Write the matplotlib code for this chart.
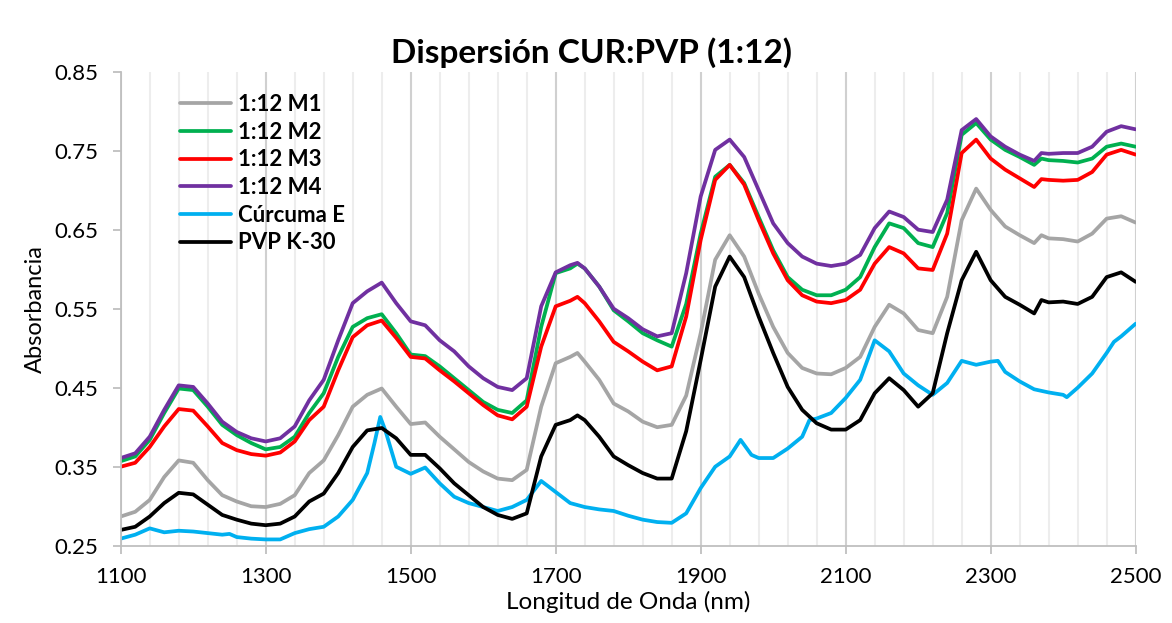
import numpy as np
import matplotlib
matplotlib.use("Agg")
import matplotlib.pyplot as plt

plt.rcParams['font.family'] = ['Lato', 'DejaVu Sans']

# wavelengths (nm) shared by the sample / PVP spectra
wl = [1100, 1120, 1140, 1160, 1180, 1200, 1220, 1240, 1260, 1280,
      1300, 1320, 1340, 1360, 1380, 1400, 1420, 1440, 1460, 1480,
      1500, 1520, 1540, 1560, 1580, 1600, 1620, 1640, 1660, 1680,
      1700, 1720, 1730, 1740, 1760, 1780, 1800, 1820, 1840, 1860,
      1880, 1900, 1920, 1940, 1960, 1980, 2000, 2020, 2040, 2060,
      2080, 2100, 2120, 2140, 2160, 2180, 2200, 2220, 2240, 2260,
      2280, 2300, 2320, 2340, 2360, 2370, 2380, 2400, 2420, 2440,
      2460, 2480, 2500]

m1 = [.287, .293, .308, .337, .358, .355, .333, .314, .306, .300,
      .299, .303, .314, .342, .358, .390, .426, .441, .449, .426,
      .404, .406, .388, .372, .356, .344, .335, .333, .346, .426,
      .481, .489, .494, .483, .460, .430, .420, .407, .400, .403,
      .440, .519, .612, .643, .616, .569, .527, .494, .475, .468,
      .467, .475, .489, .527, .555, .544, .523, .519, .565, .662,
      .702, .675, .654, .643, .633, .643, .639, .638, .635, .645,
      .664, .667, .659]

m2 = [.357, .363, .384, .418, .449, .447, .426, .403, .390, .380,
      .372, .375, .388, .418, .443, .489, .527, .538, .543, .519,
      .492, .490, .477, .462, .447, .432, .422, .418, .434, .527,
      .595, .601, .607, .601, .578, .548, .534, .519, .510, .502,
      .556, .645, .717, .732, .709, .666, .624, .590, .574, .567,
      .567, .574, .590, .628, .658, .652, .633, .628, .671, .770,
      .785, .764, .751, .742, .732, .740, .738, .737, .735, .740,
      .755, .759, .755]

m3 = [.350, .355, .375, .401, .423, .421, .401, .380, .371, .366,
      .364, .368, .382, .409, .426, .472, .514, .529, .535, .513,
      .489, .487, .472, .458, .443, .428, .415, .410, .426, .502,
      .553, .560, .565, .557, .534, .508, .496, .483, .472, .477,
      .540, .637, .713, .732, .707, .662, .620, .586, .567, .559,
      .557, .561, .574, .607, .628, .620, .601, .599, .645, .747,
      .764, .740, .726, .715, .704, .714, .713, .712, .713, .723,
      .745, .751, .745]

m4 = [.361, .367, .388, .422, .453, .451, .430, .407, .394, .386,
      .382, .386, .401, .434, .460, .510, .557, .572, .583, .557,
      .534, .529, .510, .496, .477, .462, .451, .447, .462, .553,
      .596, .605, .608, .601, .578, .550, .538, .524, .515, .519,
      .595, .692, .751, .764, .742, .700, .658, .633, .616, .607,
      .604, .607, .618, .652, .673, .666, .650, .647, .688, .776,
      .790, .768, .755, .745, .737, .747, .746, .747, .747, .755,
      .774, .781, .777]

pvp = [.270, .274, .287, .304, .317, .315, .302, .289, .283, .278,
       .276, .278, .287, .306, .316, .342, .375, .396, .399, .386,
       .365, .365, .348, .329, .314, .299, .289, .284, .291, .363,
       .403, .409, .415, .409, .388, .363, .352, .342, .335, .335,
       .395, .485, .578, .616, .590, .540, .494, .451, .422, .405,
       .397, .397, .409, .443, .462, .447, .426, .443, .519, .586,
       .622, .586, .565, .555, .544, .561, .558, .559, .556, .565,
       .590, .596, .584]

# curcuma spectrum has its own sampling (sharper features)
wl_cur = [1100, 1120, 1140, 1160, 1180, 1200, 1220, 1240, 1250, 1260,
          1280, 1300, 1320, 1340, 1360, 1380, 1400, 1420, 1440, 1450,
          1458, 1465, 1480, 1500, 1520, 1540, 1560, 1580, 1600, 1620,
          1640, 1660, 1680, 1700, 1720, 1740, 1760, 1780, 1800, 1820,
          1840, 1860, 1880, 1900, 1920, 1940, 1955, 1970, 1980, 2000,
          2020, 2040, 2050, 2060, 2080, 2100, 2120, 2140, 2160, 2180,
          2200, 2220, 2240, 2260, 2280, 2300, 2310, 2320, 2340, 2360,
          2380, 2400, 2405, 2420, 2440, 2460, 2470, 2480, 2500]
cur = [.259, .264, .272, .267, .269, .268, .266, .264, .265, .261,
       .259, .258, .258, .266, .271, .274, .287, .308, .342, .380,
       .413, .396, .350, .341, .349, .329, .312, .304, .299, .294,
       .299, .308, .332, .318, .304, .299, .296, .294, .288, .283,
       .280, .279, .291, .323, .350, .363, .384, .365, .361, .361,
       .373, .388, .409, .411, .418, .437, .460, .510, .496, .468,
       .453, .441, .456, .484, .479, .483, .484, .470, .458, .448,
       .444, .441, .438, .450, .468, .494, .508, .515, .531]

xticks = [1100, 1300, 1500, 1700, 1900, 2100, 2300, 2500]
yticks = [0.25, 0.35, 0.45, 0.55, 0.65, 0.75, 0.85]

fig = plt.figure(figsize=(11.72, 6.23), dpi=100)
ax = fig.add_axes([0.103, 0.124, 0.866, 0.761])

lw = 2.7
kw = dict(lw=lw, solid_joinstyle='round', solid_capstyle='round')
ax.plot(wl, m1, color='#A5A5A5', label='1:12 M1', **kw)
ax.plot(wl, m2, color='#00B050', label='1:12 M2', **kw)
ax.plot(wl, m3, color='#FF0000', label='1:12 M3', **kw)
ax.plot(wl, m4, color='#7030A0', label='1:12 M4', **kw)
ax.plot(wl_cur, cur, color='#00B0F0', label='Cúrcuma E', **kw)
ax.plot(wl, pvp, color='#000000', label='PVP K-30', **kw)

ax.set_xlim(1100, 2500)
ax.set_ylim(0.25, 0.85)
ax.set_xticks(xticks)
ax.set_xticks([x for x in range(1100, 2501, 40) if x not in xticks], minor=True)
ax.set_yticks(yticks)
ax.set_yticklabels(['%.2f' % v for v in yticks])

ax.grid(True, which='major', axis='x', color='#D0D0D0', lw=1.5)
ax.grid(True, which='minor', axis='x', color='#EDEDED', lw=1.5)
ax.set_axisbelow(True)

for s in ['top', 'right']:
    ax.spines[s].set_visible(False)
for s in ['left', 'bottom']:
    ax.spines[s].set_color('#BFBFBF')
    ax.spines[s].set_linewidth(1.3)
ax.tick_params(axis='both', which='major', direction='out', length=6,
               color='#BFBFBF', width=1.3, labelsize=16)
ax.tick_params(axis='x', which='major', pad=9)
ax.tick_params(axis='y', which='major', pad=10)
ax.tick_params(axis='x', which='minor', length=0)

ax.set_xlabel('Longitud de Onda (nm)', fontsize=17.5, labelpad=3)
ax.set_ylabel('Absorbancia', fontsize=17, labelpad=6)

fig.text(0.505, 0.915, 'Dispersión CUR:PVP (1:12)', ha='center', va='center',
         fontsize=24, fontweight='bold')

leg = ax.legend(loc='upper left', bbox_to_anchor=(0.039, 0.995), frameon=False,
                prop={'size': 16, 'weight': 'bold'}, handlelength=2.3,
                handletextpad=0.3, labelspacing=0.3)

fig.savefig('out.png', dpi=100)
